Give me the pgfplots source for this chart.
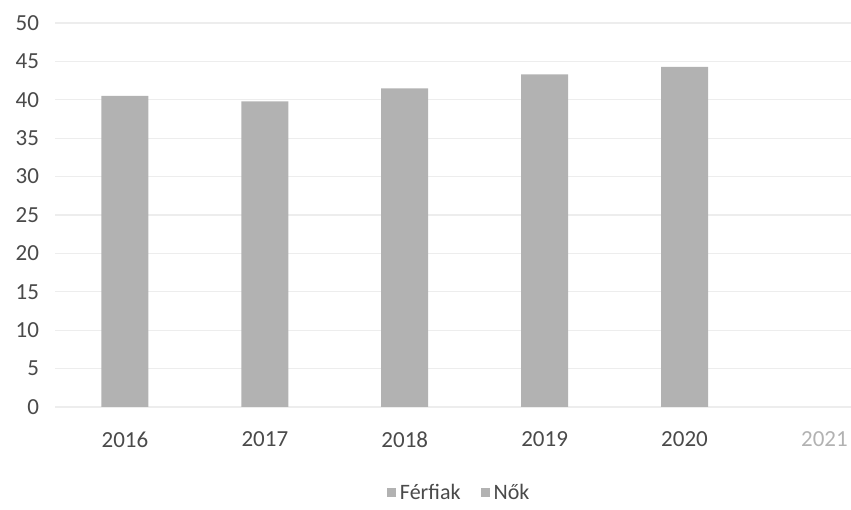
\documentclass[border=0pt]{standalone}
\usepackage{fontspec}
\setmainfont{Carlito}
\usepackage{pgfplots}
\pgfplotsset{compat=1.18}
\definecolor{barg}{HTML}{B2B2B2}
\definecolor{txt}{HTML}{4A4A4A}
\definecolor{gridc}{HTML}{EDEDED}

\begin{document}
\begin{tikzpicture}
\begin{axis}[
    scale only axis,
    width=398pt, height=192pt,
    xmin=-0.5, xmax=5.19,
    ymin=0, ymax=50,
    ybar, bar width=23.5pt,
    xtick={0,...,5},
    xticklabels={2016,2017,2018,2019,2020,{\textcolor{gray!60}{2021}}},
    ytick={0,5,...,50},
    ymajorgrids=true,
    grid style={gridc, line width=0.6pt},
    axis line style={draw=none},
    major tick length=0pt,
    tick label style={font=\fontsize{11.5}{13}\selectfont, text=txt},
    /pgf/number format/assume math mode=true,
    yticklabel style={xshift=-4.5pt},
    xticklabel style={yshift=-9pt},
    legend style={at={(0.509,-0.224)}, anchor=center, draw=none,
        legend columns=2, font=\fontsize{11}{13}\selectfont, text=txt,
        /tikz/every even column/.append style={column sep=8pt}},
    legend image code/.code={\fill[#1] (0pt,-2pt) rectangle (4.5pt,2.5pt);},
]
\addplot[fill=barg, draw=none] coordinates {
    (0,40.5) (1,39.8) (2,41.5) (3,43.3) (4,44.3)
};
\addlegendentry{Férfiak}
\addlegendimage{fill=barg, draw=none}
\addlegendentry{Nők}
\end{axis}
% page cut like the scan: 2021 runs to the right edge
\pgfresetboundingbox
\path ([xshift=-27.5pt,yshift=-51.5pt]current axis.south west)
    rectangle ([yshift=11.5pt]current axis.north east);
\end{tikzpicture}
\end{document}
